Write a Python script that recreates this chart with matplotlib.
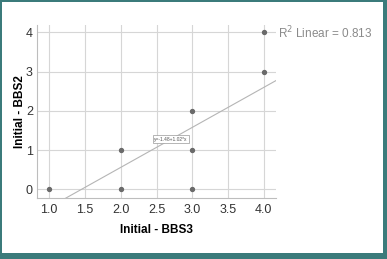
import numpy as np
import matplotlib.pyplot as plt
from matplotlib.patches import Rectangle

plt.rcParams['font.family'] = ['Liberation Sans', 'DejaVu Sans']

# data (SPSS style, overlapping points shown once)
bbs3 = [1, 2, 2, 3, 3, 3, 4, 4]
bbs2 = [0, 0, 1, 0, 1, 2, 3, 4]

# fit line from the label y=-1.48+1.02*x
intercept = -1.48
slope = 1.02
r2 = 0.813

xticks = [1.0, 1.5, 2.0, 2.5, 3.0, 3.5, 4.0]
yticks = [0, 1, 2, 3, 4]

W, H = 387, 259
fig = plt.figure(figsize=(W / 100, H / 100), dpi=100)
fig.patch.set_facecolor('#3b7b7b')
fig.patches.append(Rectangle((2 / W, 6 / H), (W - 6) / W, (H - 8) / H,
                             transform=fig.transFigure, facecolor='white',
                             edgecolor='none', zorder=-10))

# plot area: x 37..276 px, y 25..198 px
ax = fig.add_axes([37 / W, 1 - 198 / H, (276 - 37) / W, (198 - 25) / H])
ax.set_facecolor('white')
ax.set_xlim(0.83, 4.17)
ax.set_ylim(-0.22, 4.19)

ax.set_xticks(xticks)
ax.set_xticklabels([f'{t:.1f}' for t in xticks])
ax.set_yticks(yticks)
ax.grid(True, color='#d6d6d6', linewidth=0.8)
ax.set_axisbelow(True)

for side in ['top', 'right']:
    ax.spines[side].set_visible(False)
for side in ['left', 'bottom']:
    ax.spines[side].set_color('#bdbdbd')
    ax.spines[side].set_linewidth(0.8)
ax.tick_params(length=0, labelsize=9, colors='#333333', pad=4)
ax.tick_params(axis='y', pad=3)

ax.scatter(bbs3, bbs2, s=8, color='#6a6a6a', zorder=3)

xs = np.array(ax.get_xlim())
ax.plot(xs, intercept + slope * xs, color='#b5b5b5', linewidth=0.8, zorder=2)

ax.text(2.70, 1.28, 'y=-1.48+1.02*x', fontsize=3.5, ha='center', va='center',
        color='#555555', zorder=4,
        bbox=dict(boxstyle='square,pad=0.3', facecolor='white',
                  edgecolor='#999999', linewidth=0.5))

ax.set_xlabel('Initial - BBS3', fontsize=8.5, fontweight='bold', labelpad=6)
ax.set_ylabel('Initial - BBS2', fontsize=8.5, fontweight='bold', labelpad=0)

fig.text(278 / W, 1 - 33 / H, f'R$^2$ Linear = {r2}', fontsize=8.5,
         color='#8a8a8a', ha='left', va='center')

plt.savefig('out.png', dpi=100)
